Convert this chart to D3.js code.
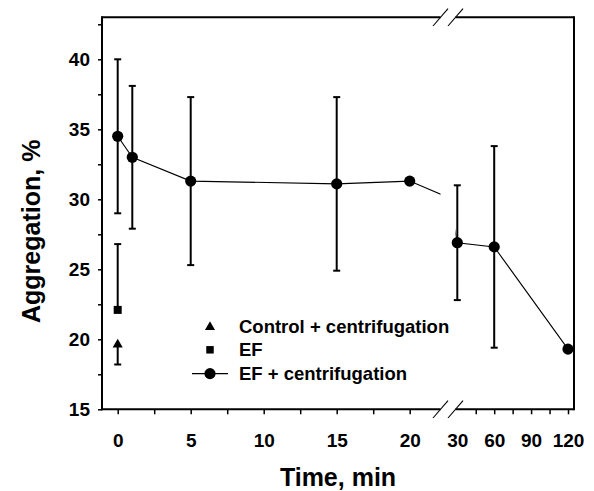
<!DOCTYPE html>
<html>
<head>
<meta charset="utf-8">
<script src="https://cdn.jsdelivr.net/npm/d3@7"></script>
<style>
  html, body { margin: 0; padding: 0; background: #fff; }
  svg { display: block; font-family: "Liberation Sans", Arial, sans-serif; font-weight: bold; }
  .axis .domain { display: none; }
  .axis line { stroke: #000; stroke-width: 1.5; }
  .axis text { fill: #000; font-size: 19px; font-weight: bold; font-family: "Liberation Sans", Arial, sans-serif; }
</style>
</head>
<body>
<div id="chart"></div>
<script>
// Aggregation vs time, broken x axis (0–20 linear, then 30–120)

const times      = [0, 1, 5, 15, 20, 30, 60, 120];
const efCentr    = [34.5, 33.0, 31.3, 31.1, 31.3, 26.9, 26.6, 19.3];
const efCentrSd  = [5.5, 5.1, 6.0, 6.2, 0, 4.1, 7.2, 0];

const efTime = [0],    efVal = [22.1],    efUp = [4.7];     // only upper bar drawn
const ctlTime = [0],   ctlVal = [19.7],   ctlDown = [1.5];  // only lower bar drawn

const yMajor = [15, 20, 25, 30, 35, 40];
const yMinor = [17.5, 22.5, 27.5, 32.5, 37.5, 42.5];
const xMajorA = [0, 5, 10, 15, 20];
const xMinorA = [2.5, 7.5, 12.5, 17.5];
const xMajorB = [60, 90, 120];
const xMinorB = [45, 75, 105];
const xLabelsB = [30, 60, 90, 120];

const legendItems = ["Control + centrifugation", "EF", "EF + centrifugation"];

const W = 594, H = 491;
const frame = { left: 102, right: 574, top: 17.3, bottom: 409.3 };
const gapL = 440.5, gapR = 455.5;   // axis break

const y  = d3.scaleLinear().domain([15, 40]).range([409.3, 59.3]);
const x1 = d3.scaleLinear().domain([0, 20]).range([117.7, 409.7]);
const x2 = d3.scaleLinear().domain([30, 120]).range([457.3, 568]);
const xp = t => (t <= 22 ? x1(t) : x2(t));

const svg = d3.select("#chart").append("svg")
  .attr("width", W).attr("height", H).attr("viewBox", `0 0 ${W} ${H}`);

const defs = svg.append("defs");
defs.append("clipPath").attr("id", "clipA").append("rect")
  .attr("x", frame.left).attr("y", frame.top).attr("width", gapL - frame.left).attr("height", frame.bottom - frame.top);
defs.append("clipPath").attr("id", "clipB").append("rect")
  .attr("x", gapR).attr("y", frame.top).attr("width", frame.right - gapR).attr("height", frame.bottom - frame.top);

// y axis ticks
svg.append("g").attr("class", "axis").attr("transform", `translate(${frame.left},0)`)
  .call(d3.axisLeft(y).tickValues(yMajor).tickSize(4).tickPadding(8));
svg.append("g").attr("class", "axis").attr("transform", `translate(${frame.left},0)`)
  .call(d3.axisLeft(y).tickValues(yMinor).tickSize(4).tickFormat(""));

// x axis ticks, two segments
const gxA = svg.append("g").attr("class", "axis").attr("transform", `translate(0,${frame.bottom})`);
gxA.call(d3.axisBottom(x1).tickValues(xMajorA).tickSize(5).tickPadding(19));
svg.append("g").attr("class", "axis").attr("transform", `translate(0,${frame.bottom})`)
  .call(d3.axisBottom(x1).tickValues(xMinorA).tickSize(5).tickFormat(""));
svg.append("g").attr("class", "axis").attr("transform", `translate(0,${frame.bottom})`)
  .call(d3.axisBottom(x2).tickValues(xMajorB.concat(xMinorB)).tickSize(5).tickFormat(""));
const gxB = svg.append("g").attr("class", "axis").attr("transform", `translate(0,${frame.bottom})`);
gxB.call(d3.axisBottom(x2).tickValues(xLabelsB).tickSize(0).tickPadding(24));
gxB.selectAll(".tick line").remove();

// frame with break in top and bottom lines
const fr = svg.append("g").attr("stroke", "#000").attr("stroke-width", 2).attr("fill", "none");
fr.append("line").attr("x1", frame.left).attr("x2", frame.left).attr("y1", frame.top - 1).attr("y2", frame.bottom + 1);
fr.append("line").attr("x1", frame.right).attr("x2", frame.right).attr("y1", frame.top - 1).attr("y2", frame.bottom + 1);
[frame.top, frame.bottom].forEach(yy => {
  fr.append("line").attr("x1", frame.left).attr("x2", gapL).attr("y1", yy).attr("y2", yy);
  fr.append("line").attr("x1", gapR).attr("x2", frame.right).attr("y1", yy).attr("y2", yy);
  [gapL, gapR].forEach(cx => {
    svg.append("line")
      .attr("x1", cx - 7.5).attr("y1", yy + 8.7).attr("x2", cx + 7.5).attr("y2", yy - 8.7)
      .attr("stroke", "#000").attr("stroke-width", 1.1);
  });
});

// connecting line, drawn per segment and clipped at the break
const lineA = d3.line().x(d => x1(d[0])).y(d => y(d[1]));
const lineB = d3.line().x(d => x2(d[0])).y(d => y(d[1]));
const pts = times.map((t, i) => [t, efCentr[i]]);
svg.append("path").attr("d", lineA(pts)).attr("clip-path", "url(#clipA)")
  .attr("fill", "none").attr("stroke", "#000").attr("stroke-width", 1.1);
svg.append("path").attr("d", lineB(pts)).attr("clip-path", "url(#clipB)")
  .attr("fill", "none").attr("stroke", "#000").attr("stroke-width", 1.1);

// error bars
const eb = svg.append("g").attr("stroke", "#000").attr("stroke-width", 2);
function errBar(cx, lo, hi, capLo, capHi) {
  eb.append("line").attr("x1", cx).attr("x2", cx).attr("y1", y(lo)).attr("y2", y(hi));
  if (capHi) eb.append("line").attr("x1", cx - 3.5).attr("x2", cx + 3.5).attr("y1", y(hi)).attr("y2", y(hi));
  if (capLo) eb.append("line").attr("x1", cx - 3.5).attr("x2", cx + 3.5).attr("y1", y(lo)).attr("y2", y(lo));
}
times.forEach((t, i) => {
  if (efCentrSd[i] > 0) errBar(xp(t), efCentr[i] - efCentrSd[i], efCentr[i] + efCentrSd[i], true, true);
});
efTime.forEach((t, i) => errBar(xp(t), efVal[i], efVal[i] + efUp[i], false, true));
ctlTime.forEach((t, i) => errBar(xp(t), ctlVal[i] - ctlDown[i], ctlVal[i], true, false));

// markers
const tri = d3.symbol().type(d3.symbolTriangle).size(44);
const sq  = d3.symbol().type(d3.symbolSquare).size(64);
svg.append("g").selectAll("circle").data(pts).join("circle")
  .attr("cx", d => xp(d[0])).attr("cy", d => y(d[1])).attr("r", 5.6).attr("fill", "#000");
svg.append("g").selectAll("path").data(efTime).join("path")
  .attr("d", sq).attr("transform", (t, i) => `translate(${xp(t)},${y(efVal[i])})`).attr("fill", "#000");
svg.append("g").selectAll("path").data(ctlTime).join("path")
  .attr("d", tri).attr("transform", (t, i) => `translate(${xp(t)},${y(ctlVal[i]) + 1})`).attr("fill", "#000");

// legend
const lg = svg.append("g");
const lgX = 210, lgY0 = 326, lgDy = 23.8;
legendItems.forEach((name, i) => {
  const cy = lgY0 + i * lgDy;
  if (i === 0) lg.append("path").attr("d", tri).attr("transform", `translate(${lgX},${cy + 1})`);
  if (i === 1) lg.append("path").attr("d", d3.symbol().type(d3.symbolSquare).size(56)).attr("transform", `translate(${lgX},${cy})`);
  if (i === 2) {
    lg.append("line").attr("x1", lgX - 18).attr("x2", lgX + 18).attr("y1", cy).attr("y2", cy)
      .attr("stroke", "#000").attr("stroke-width", 1.1);
    lg.append("circle").attr("cx", lgX).attr("cy", cy).attr("r", 5.6);
  }
  lg.append("text").attr("x", 239).attr("y", cy + 6.5)
    .attr("font-size", 18.5).attr("fill", "#000").text(name);
});

// axis titles
svg.append("text").attr("x", 338).attr("y", 486).attr("text-anchor", "middle")
  .attr("font-size", 25).attr("fill", "#000").text("Time, min");
svg.append("text").attr("transform", `translate(40,${(frame.top + frame.bottom) / 2 + 18}) rotate(-90)`)
  .attr("text-anchor", "middle").attr("font-size", 25).attr("fill", "#000").text("Aggregation, %");
</script>
</body>
</html>
